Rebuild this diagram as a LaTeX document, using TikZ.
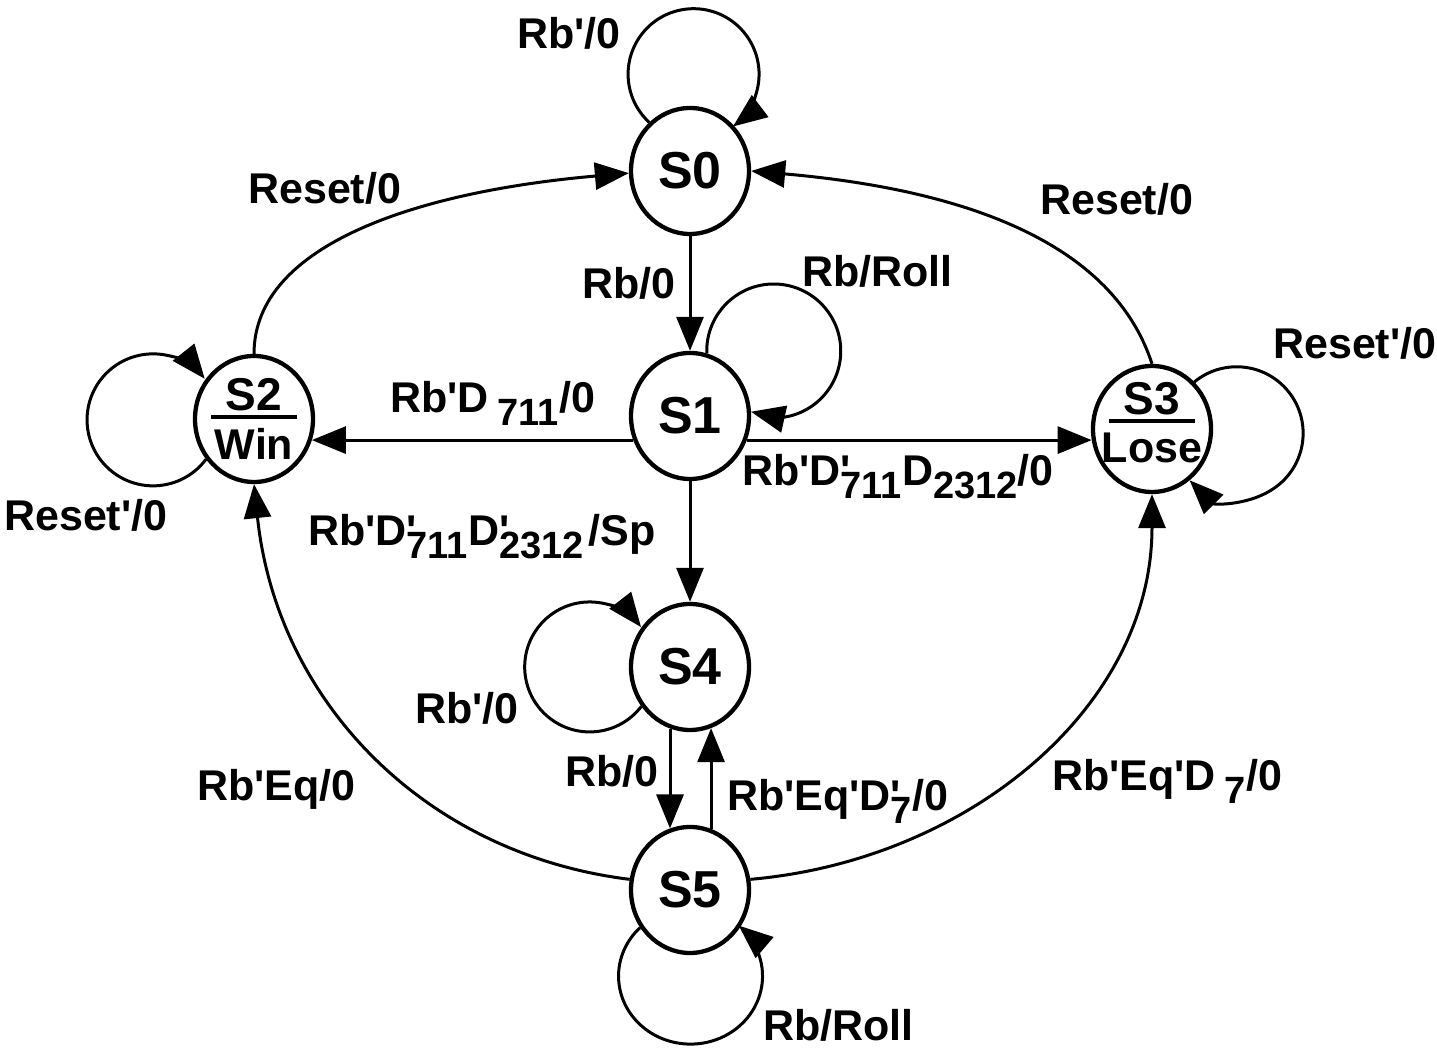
\documentclass[tikz,border=0pt]{standalone}
\usepackage{fontspec}
\setmainfont{Liberation Sans}[Ligatures=TeXOff]
\usetikzlibrary{arrows.meta,shapes.geometric,calc}

% lowered index digits
\newcommand\lowsub[1]{\raisebox{-13pt}{\fontsize{38}{38}\selectfont #1}}
% prime stacked over a lowered index
\newcommand\primesub[1]{\rlap{'}\lowsub{#1}}
% state name over its output, separated by a rule
\newcommand\splitname[2]{\vbox{\hbox to 86pt{\hss\fontsize{46}{46}\selectfont#1\hss}\kern4pt\hrule height 4pt\kern10pt\hbox to 86pt{\hss#2\hss}}}

\begin{document}
\begin{tikzpicture}[x=1pt,y=1pt,
  state/.style={draw, ellipse, line width=4.3pt, minimum width=118pt, minimum height=126pt,
                inner sep=0pt, font=\fontsize{52}{52}\selectfont\bfseries},
  split/.style={inner sep=0pt, font=\fontsize{43}{43}\selectfont\bfseries},
  lab/.style={inner sep=0pt, anchor=base west, font=\fontsize{43}{43}\selectfont\bfseries},
  conn/.style={line width=3pt, -{Triangle[length=34pt,width=27pt]}},
]
\fill[white] (0,0) rectangle (1437,-1045);

% states
\node[state] (S0) at (690,-167) {S0};
\node[state] (S1) at (690,-412) {S1};
\node[state] (S2) at (254,-415) {};
\node[state] (S3) at (1152,-425) {};
\node[state] (S4) at (690,-663) {S4};
\node[state] (S5) at (690,-886) {S5};
\node[split] (S2name) at (S2) {\splitname{S2}{Win}};
\node[split] (S3name) at ($(S3)+(0,6)$) {\splitname{S3}{Lose}};

% self loops
\draw[conn] (S0.130) arc[start angle=227.4, end angle=-53, radius=65.5];
\draw[conn] (S1.75) arc[start angle=182, end angle=-86, radius=67] -- (S1.4);
\draw[conn] (S2.220.6) arc[start angle=-36.7, end angle=-321.5, radius=66];
\draw[conn] (S3.48) arc[start angle=129.5, end angle=-135, radius=66.5];
\draw[conn] (S4.219) arc[start angle=-37.4, end angle=-322.2, radius=65];
\draw[conn] (S5.217) arc[start angle=134.5, end angle=408, x radius=72, y radius=68];

% reset transitions
\draw[conn] (S2.north) .. controls +(90:110) and +(185:210) .. (S0.182);
\draw[conn] (S3.north) .. controls +(108:125) and +(-5:220) .. (S0.east);

% straight transitions
\draw[conn] (S0.south) -- (S1.north);
\draw[conn] (S1.south) -- (S4.north);
\draw[conn] (S1.203) -- (S1.203 -| S2.-20);
\draw[conn] (S1.-23) -- (S1.-23 -| S3.190);
\draw[conn] (S4.252) -- (S4.252 |- S5.108);
\draw[conn] (S5.71) -- (S5.71 |- S4.-71);

% transitions out of S5
\draw[conn] (S5.170) .. controls +(173:207) and +(-84:218) .. (S2.south);
\draw[conn] (S5.10) .. controls +(5:219) and +(-90:213) .. (S3.south);

% transition labels
\node[lab] (l1) at (517,-45) {Rb'/0};
\node[lab] (l2) at (248,-200) {Reset/0};
\node[lab] (l3) at (1040,-211) {Reset/0};
\node[lab] (l4) at (582,-295) {Rb/0};
\node[lab] (l5) at (802,-283) {Rb/Roll};
\node[lab] (l6) at (390,-409) {Rb'D\hspace{9pt}\lowsub{711}/0};
\node[lab] (l7) at (742,-482) {Rb'D\primesub{711}D\lowsub{2312}/0};
\node[lab] (l8) at (308,-542) {Rb'D\primesub{711}D\primesub{2312}\hspace{5pt}/Sp};
\node[lab] (l9) at (415,-720) {Rb'/0};
\node[lab] (l10) at (565,-783) {Rb/0};
\node[lab] (l11) at (727,-807) {Rb'Eq'D\primesub{7}/0};
\node[lab] (l12) at (197,-797) {Rb'Eq/0};
\node[lab] (l13) at (1052,-787) {Rb'Eq'D\hspace{9pt}\lowsub{7}/0};
\node[lab] (l14) at (763,-1037) {Rb/Roll};
\node[lab] (l15) at (4,-527) {Reset'/0};
\node[lab] (l16) at (1273,-355) {Reset'/0};
\end{tikzpicture}
\end{document}
